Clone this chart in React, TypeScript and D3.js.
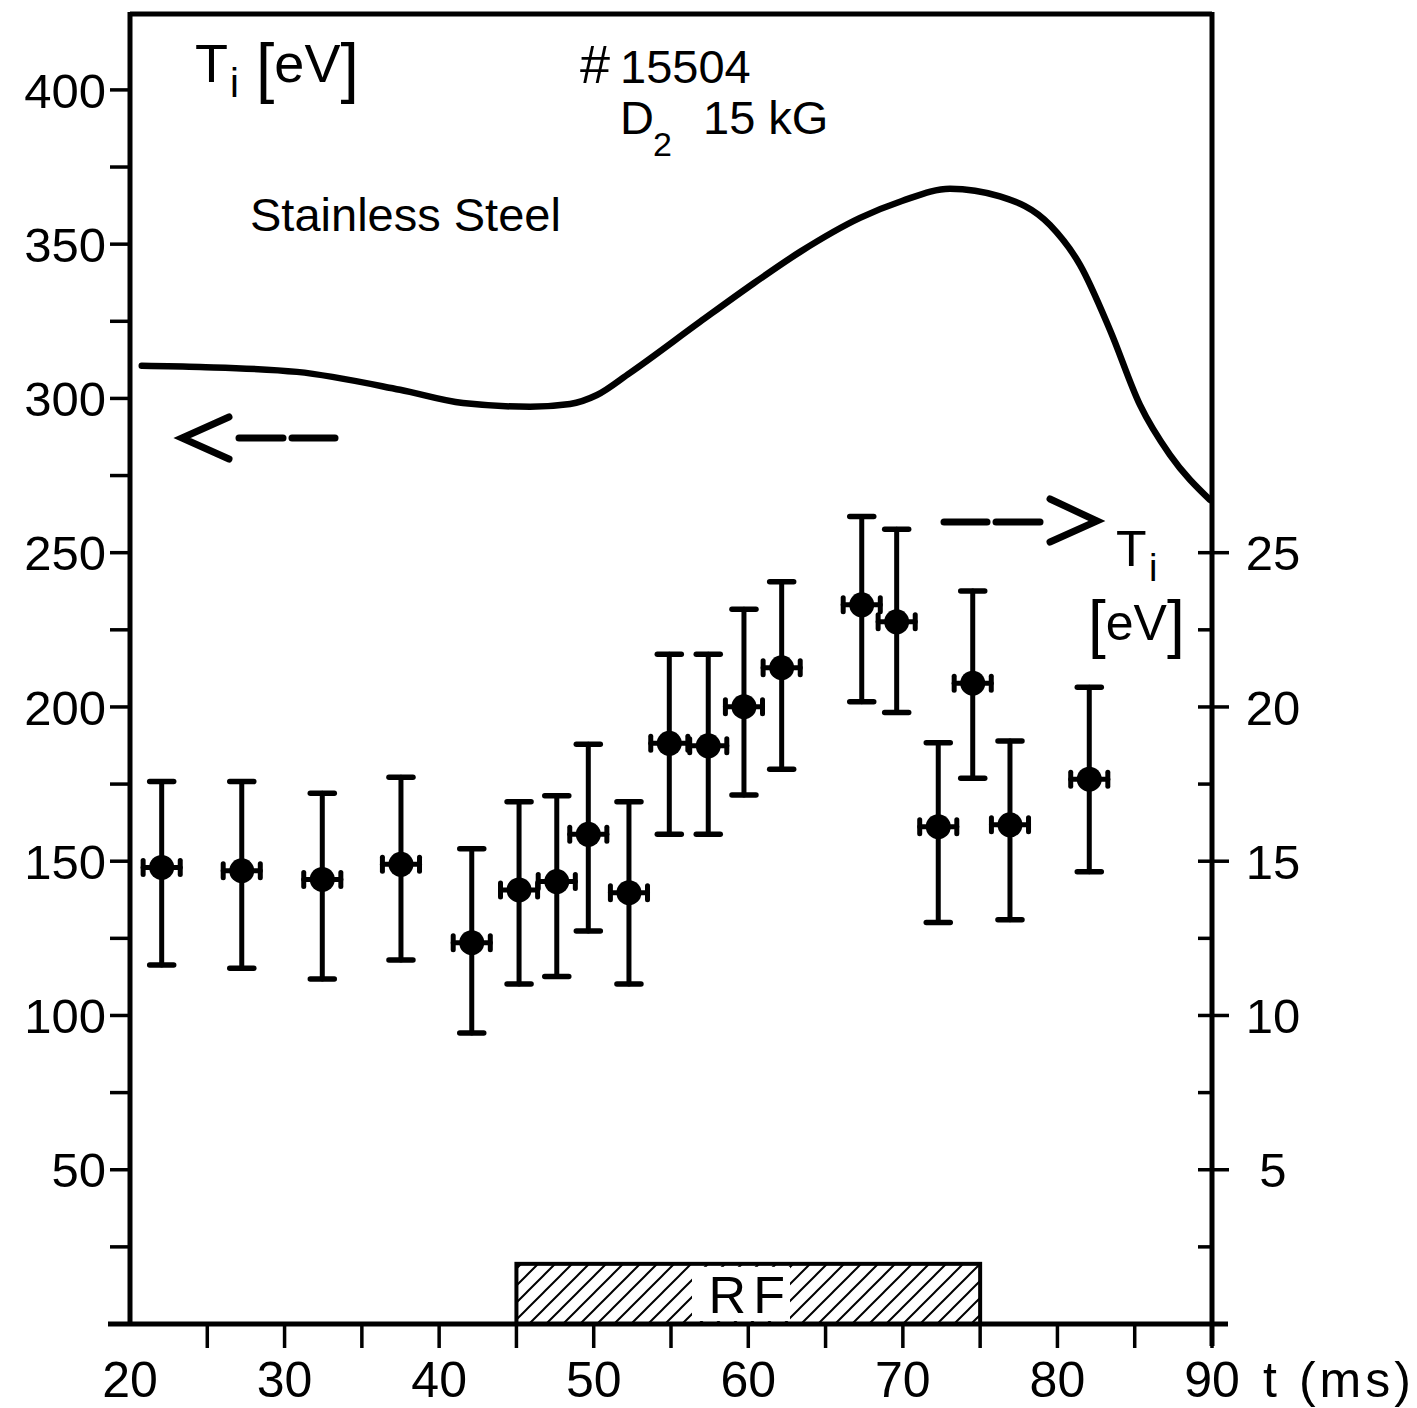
import React from "react";
import * as d3 from "d3";

// ---- data ----
const times = [22.05, 27.23, 32.44, 37.53, 42.11, 45.17, 47.61, 49.65, 52.28, 54.89, 57.41, 59.72, 62.16, 67.34, 69.6, 72.29, 74.52, 76.93, 82.06];
const tiValues = [14.8, 14.69, 14.41, 14.9, 12.36, 14.07, 14.34, 15.87, 13.98, 18.82, 18.74, 20.01, 21.27, 23.31, 22.76, 16.12, 20.77, 16.18, 17.66];
const tiUpper = [17.58, 17.58, 17.2, 17.72, 15.4, 16.93, 17.12, 18.79, 16.93, 21.71, 21.71, 23.17, 24.06, 26.17, 25.76, 18.84, 23.76, 18.9, 20.64];
const tiLower = [11.64, 11.53, 11.18, 11.8, 9.43, 11.02, 11.26, 12.74, 11.02, 15.87, 15.87, 17.15, 17.98, 20.17, 19.82, 13.01, 17.69, 13.1, 14.66];
const timeErr = 1.2;

const curveT = [20.76, 24.53, 30.8, 37.47, 41.54, 45.88, 48.47, 50.21, 52.35, 56.87, 59.92, 63.35, 67.23, 69.94, 73.05, 76.28, 79.52, 81.46, 83.4, 85.34, 87.28, 89.87];
const curveTi = [310.6, 310.2, 308.6, 302.8, 298.5, 297.3, 298.2, 301.1, 308.3, 324.8, 335.8, 347.5, 358.5, 364.0, 368.0, 365.5, 356.2, 343.3, 322.2, 297.9, 281.7, 267.1];

const xTickLabels = [20, 30, 40, 50, 60, 70, 80, 90];
const xTicks = [25, 30, 35, 40, 45, 50, 55, 60, 65, 70, 75, 80, 85, 90];
const leftMajor = [50, 100, 150, 200, 250, 300, 350, 400];
const leftMinor = [25, 75, 125, 175, 225, 275, 325, 375];
const rightMajor = [5, 10, 15, 20, 25];
const rightMinor = [2.5, 7.5, 12.5, 17.5, 22.5];
const rfStart = 45;
const rfEnd = 75;
const rfTop = 19.5;

const FONT = "'Liberation Sans', Arial, sans-serif";

export default function App() {
  const W = 1417, H = 1408;
  const x = d3.scaleLinear().domain([20, 90]).range([130, 1212]);
  const yL = d3.scaleLinear().domain([0, 424.6]).range([1324, 14]);
  const yR = d3.scaleLinear().domain([0, 42.46]).range([1324, 14]);
  const X0 = x(20), X1 = x(90), Y0 = yL(0), Ytop = yL(424.6);

  const line = d3
    .line<number>()
    .x((_, i) => x(curveT[i]))
    .y((d) => yL(d))
    .curve(d3.curveMonotoneX);

  const sw = 5;
  return (
    <svg width={W} height={H} style={{ position: "absolute", left: 0, top: 0, background: "#fff" }} fontFamily={FONT}>
      <defs>
        <pattern id="hatch" patternUnits="userSpaceOnUse" width={17} height={17}>
          <path d="M-2,19 L19,-2 M-6,6 L6,-6 M11,23 L23,11" stroke="#000" strokeWidth={2} />
        </pattern>
      </defs>
      <rect width={W} height={H} fill="#fff" />

      {/* RF box */}
      <rect x={x(rfStart)} y={yL(rfTop)} width={x(rfEnd) - x(rfStart)} height={Y0 - yL(rfTop)} fill="url(#hatch)" stroke="#000" strokeWidth={4} />
      <rect x={692} y={yL(rfTop) + 3} width={98} height={Y0 - yL(rfTop) - 6} fill="#fff" />
      <text x={(x(rfStart) + x(rfEnd)) / 2 + 2} y={1313} fontSize={52} textAnchor="middle" letterSpacing={7}>RF</text>

      {/* frame */}
      <line x1={X0} y1={Ytop} x2={X1} y2={Ytop} stroke="#000" strokeWidth={sw} />
      <line x1={X0} y1={Ytop - 2} x2={X0} y2={Y0} stroke="#000" strokeWidth={sw} />
      <line x1={X1} y1={Ytop - 2} x2={X1} y2={Y0 + 22} stroke="#000" strokeWidth={sw} />
      <line x1={X0 - 22} y1={Y0} x2={X1 + 16} y2={Y0} stroke="#000" strokeWidth={sw} />

      {/* x ticks */}
      {xTicks.map((t) => (
        <line key={"xt" + t} x1={x(t)} x2={x(t)} y1={Y0} y2={Y0 + 24} stroke="#000" strokeWidth={3.5} />
      ))}
      {xTickLabels.map((t) => (
        <text key={"xl" + t} x={x(t)} y={1397} fontSize={50} textAnchor="middle">{t}</text>
      ))}
      <text x={1263} y={1397} fontSize={50} textLength={148} lengthAdjust="spacing">t (ms)</text>

      {/* left axis ticks */}
      {leftMajor.concat(leftMinor).map((v) => (
        <line key={"lt" + v} x1={X0 - 20} x2={X0} y1={yL(v)} y2={yL(v)} stroke="#000" strokeWidth={3.5} />
      ))}
      {leftMajor.map((v) => (
        <text key={"ll" + v} x={106} y={yL(v)} dy="0.36em" fontSize={49} textAnchor="end">{v}</text>
      ))}

      {/* right axis ticks */}
      {rightMajor.map((v) => (
        <line key={"rt" + v} x1={X1 - 14} x2={X1 + 17} y1={yR(v)} y2={yR(v)} stroke="#000" strokeWidth={3.5} />
      ))}
      {rightMinor.map((v) => (
        <line key={"rm" + v} x1={X1 - 14} x2={X1} y1={yR(v)} y2={yR(v)} stroke="#000" strokeWidth={3.5} />
      ))}
      {rightMajor.map((v) => (
        <text key={"rl" + v} x={1273} y={yR(v)} dy="0.36em" fontSize={49} textAnchor="middle">{v}</text>
      ))}

      {/* curve (left scale) */}
      <path d={line(curveTi) || ""} fill="none" stroke="#000" strokeWidth={6.5} strokeLinecap="round" />

      {/* data points with error bars (right scale) */}
      {times.map((t, i) => {
        const cx = x(t), cy = yR(tiValues[i]);
        const yt = yR(tiUpper[i]), yb = yR(tiLower[i]);
        const xl = x(t - timeErr), xr = x(t + timeErr);
        return (
          <g key={"p" + i} stroke="#000" strokeLinecap="round">
            <line x1={cx} x2={cx} y1={yt} y2={yb} strokeWidth={5} />
            <line x1={cx - 12} x2={cx + 12} y1={yt} y2={yt} strokeWidth={5.5} />
            <line x1={cx - 12} x2={cx + 12} y1={yb} y2={yb} strokeWidth={5.5} />
            <line x1={xl} x2={xr} y1={cy} y2={cy} strokeWidth={5} />
            <line x1={xl} x2={xl} y1={cy - 7} y2={cy + 7} strokeWidth={5} />
            <line x1={xr} x2={xr} y1={cy - 7} y2={cy + 7} strokeWidth={5} />
            <circle cx={cx} cy={cy} r={12.5} fill="#000" stroke="none" />
          </g>
        );
      })}

      {/* arrows */}
      <g stroke="#000" strokeWidth={7} fill="none" strokeLinecap="round" strokeLinejoin="miter">
        <path d="M229,417 L182,438 L229,459" />
        <line x1={239} x2={283} y1={438} y2={438} />
        <line x1={292} x2={335} y1={438} y2={438} />
        <path d="M1050,499 L1097,521 L1050,542" />
        <line x1={944} x2={987} y1={522} y2={522} />
        <line x1={996} x2={1040} y1={522} y2={522} />
      </g>

      {/* annotations */}
      <text x={195} y={82} fontSize={54}>T</text>
      <text x={230} y={97} fontSize={40}>i</text>
      <text x={256} y={82} fontSize={54}>
        <tspan fontSize={66} dy={8}>[</tspan>
        <tspan dy={-8}>eV</tspan>
        <tspan fontSize={66} dy={8}>]</tspan>
      </text>
      <text x={580} y={83} fontSize={47}>
        <tspan fontSize={54}>#</tspan>
        <tspan dx={10}>15504</tspan>
      </text>
      <text x={620} y={134} fontSize={47}>D</text>
      <text x={653} y={156} fontSize={34}>2</text>
      <text x={703} y={134} fontSize={47}>15 kG</text>
      <text x={250} y={231} fontSize={47}>Stainless Steel</text>

      <text x={1116} y={566} fontSize={50}>T</text>
      <text x={1149} y={581} fontSize={38}>i</text>
      <text x={1088} y={640} fontSize={50}>
        <tspan fontSize={64} dy={6}>[</tspan>
        <tspan dy={-6}>eV</tspan>
        <tspan fontSize={64} dy={6}>]</tspan>
      </text>
    </svg>
  );
}
